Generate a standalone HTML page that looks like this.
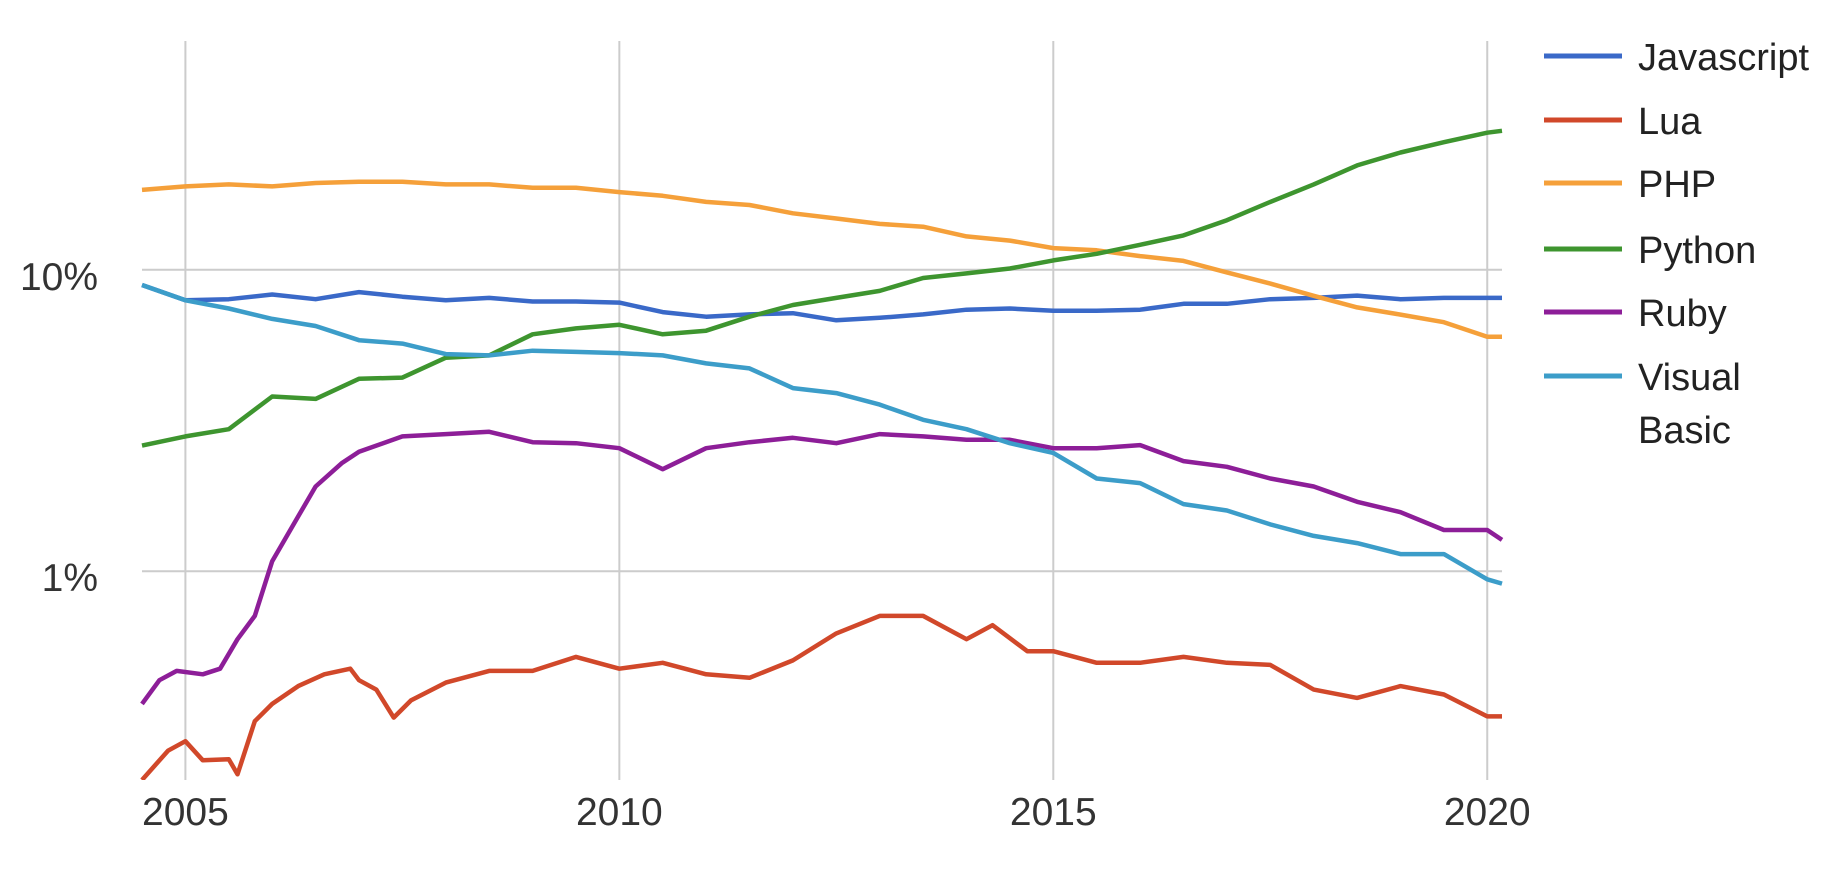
<!DOCTYPE html>
<html><head><meta charset="utf-8"><style>
html,body{margin:0;padding:0;background:#fff;}
svg{display:block;font-family:"Liberation Sans",sans-serif;}
</style></head><body>
<svg id="chart" width="1840" height="882" viewBox="0 0 1840 882" xmlns="http://www.w3.org/2000/svg"></svg>
<script>
const seriesNames = ["Javascript","Lua","PHP","Python","Ruby","Visual Basic"];
const seriesColors = ["#3a69c8","#d1482a","#f5a03a","#3e952f","#8d1e98","#3c9dc9"];
const xTicks = [2005,2010,2015,2020];
const xTickLabels = ["2005","2010","2015","2020"];
const yTicks = [1,10];
const yTickLabels = ["1%","10%"];

const yearsHalf = [2004.5,2005,2005.5,2006,2006.5,2007,2007.5,2008,2008.5,2009,2009.5,2010,2010.5,2011,2011.5,2012,2012.5,2013,2013.5,2014,2014.5,2015,2015.5,2016,2016.5,2017,2017.5,2018,2018.5,2019,2019.5,2020,2020.17];
const jsValues = [8.9,7.92,7.99,8.28,7.99,8.43,8.14,7.92,8.07,7.85,7.85,7.78,7.24,6.99,7.11,7.18,6.80,6.93,7.11,7.37,7.44,7.31,7.31,7.37,7.71,7.71,7.99,8.07,8.21,7.99,8.07,8.07,8.07];
const phpValues = [18.4,18.9,19.2,18.9,19.4,19.6,19.6,19.2,19.2,18.7,18.7,18.1,17.6,16.8,16.4,15.4,14.8,14.2,13.9,12.9,12.5,11.8,11.6,11.1,10.7,9.8,9.0,8.2,7.5,7.1,6.7,6.0,6.0];
const pythonValues = [2.61,2.80,2.96,3.80,3.73,4.35,4.39,5.11,5.20,6.11,6.39,6.57,6.11,6.28,6.99,7.64,8.07,8.51,9.39,9.73,10.1,10.74,11.3,12.1,13.0,14.6,16.8,19.2,22.2,24.5,26.5,28.5,28.9];
const vbValues = [8.9,7.92,7.44,6.87,6.51,5.84,5.69,5.25,5.20,5.39,5.34,5.29,5.20,4.89,4.71,4.05,3.90,3.57,3.18,2.96,2.66,2.47,2.03,1.96,1.67,1.59,1.43,1.31,1.24,1.14,1.14,0.94,0.91];

const rubyYears = [2004.5,2004.7,2004.9,2005.2,2005.4,2005.6,2005.8,2006,2006.3,2006.5,2006.8,2007,2007.5,2008,2008.5,2009,2009.5,2010,2010.5,2011,2011.5,2012,2012.5,2013,2013.5,2014,2014.5,2015,2015.5,2016,2016.5,2017,2017.5,2018,2018.5,2019,2019.5,2020,2020.17];
const rubyValues = [0.363,0.435,0.467,0.455,0.475,0.595,0.711,1.08,1.52,1.91,2.28,2.49,2.80,2.85,2.90,2.68,2.66,2.56,2.18,2.56,2.68,2.77,2.66,2.85,2.80,2.73,2.73,2.56,2.56,2.62,2.32,2.22,2.03,1.91,1.70,1.57,1.37,1.37,1.27];

const luaYears = [2004.5,2004.8,2005,2005.2,2005.5,2005.6,2005.8,2006,2006.3,2006.6,2006.9,2007,2007.2,2007.4,2007.6,2008,2008.5,2009,2009.5,2010,2010.5,2011,2011.5,2012,2012.5,2013,2013.5,2014,2014.3,2014.7,2015,2015.5,2016,2016.5,2017,2017.5,2018,2018.5,2019,2019.5,2020,2020.17];
const luaValues = [0.203,0.254,0.273,0.236,0.238,0.212,0.318,0.363,0.416,0.455,0.475,0.435,0.405,0.327,0.373,0.427,0.467,0.467,0.520,0.475,0.497,0.455,0.443,0.506,0.622,0.711,0.711,0.595,0.662,0.543,0.543,0.497,0.497,0.520,0.497,0.489,0.405,0.380,0.416,0.390,0.330,0.330];

const seriesData = [
  [yearsHalf, jsValues],
  [luaYears, luaValues],
  [yearsHalf, phpValues],
  [yearsHalf, pythonValues],
  [rubyYears, rubyValues],
  [yearsHalf, vbValues]
];

const NS = "http://www.w3.org/2000/svg";
const svg = document.getElementById("chart");
const X0 = 142, X1 = 1502, YR0 = 2004.5, YR1 = 2020.17;
const TOP = 41, BOT = 780;
const LMIN = Math.log10(0.203), LMAX = Math.log10(57.4);
function xScale(yr){ return X0 + (yr - YR0) / (YR1 - YR0) * (X1 - X0); }
function yScale(v){ return BOT - (Math.log10(v) - LMIN) / (LMAX - LMIN) * (BOT - TOP); }
function mk(tag, attrs){ const e = document.createElementNS(NS, tag); for (const k in attrs) e.setAttribute(k, attrs[k]); return e; }

const defs = mk("defs", {});
const cp = mk("clipPath", {id: "plotclip"});
cp.appendChild(mk("rect", {x: X0 - 5, y: TOP, width: X1 - X0 + 10, height: BOT - TOP}));
defs.appendChild(cp);
svg.appendChild(defs);

xTicks.forEach((t, i) => {
  const gx = xScale(t);
  const g = mk("line", {x1: gx, x2: gx, y1: TOP, y2: BOT, stroke: "#cccccc", "stroke-width": 2});
  
  
  svg.appendChild(g);
  const tx = mk("text", {x: gx, y: 825, "text-anchor": "middle", "font-size": 39, fill: "#333"});
  
  
  tx.textContent = xTickLabels[i];
  svg.appendChild(tx);
});
yTicks.forEach((t, i) => {
  const gy = yScale(t);
  const g = mk("line", {x1: X0, x2: X1, y1: gy, y2: gy, stroke: "#cccccc", "stroke-width": 2});
  
  
  svg.appendChild(g);
  const tx = mk("text", {x: 98, y: gy + 20, "text-anchor": "end", "font-size": 39, fill: "#333"});
  
  
  tx.textContent = yTickLabels[i];
  svg.appendChild(tx);
});

seriesData.forEach((s, i) => {
  const xs = s[0], vs = s[1];
  const d = vs.map((v, j) => (j ? "L" : "M") + xScale(xs[j]).toFixed(1) + " " + yScale(v).toFixed(1)).join(" ");
  const p = mk("path", {d: d, fill: "none", stroke: seriesColors[i], "stroke-width": 4.5, "stroke-linejoin": "round", "clip-path": "url(#plotclip)"});
  
  
  svg.appendChild(p);
});

const legendY = [56, 120, 183, 249, 312, 376];
seriesNames.forEach((n, i) => {
  const g = mk("g", {});
  
  
  g.appendChild(mk("line", {x1: 1544, x2: 1622, y1: legendY[i], y2: legendY[i], stroke: seriesColors[i], "stroke-width": 5}));
  const parts = n === "Visual Basic" ? ["Visual", "Basic"] : [n];
  parts.forEach((pt, k) => {
    const t = mk("text", {x: 1638, y: legendY[i] + 14 + k * 53, "font-size": 38, fill: "#222"});
    t.textContent = pt;
    g.appendChild(t);
  });
  svg.appendChild(g);
});
</script>
</body></html>
